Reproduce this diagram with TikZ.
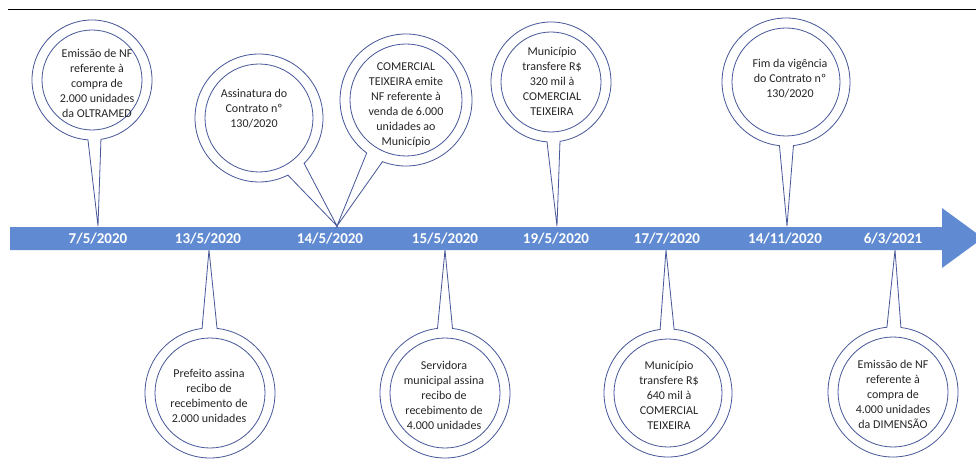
\documentclass[tikz,border=0pt]{standalone}
\usepackage{fontspec}
\setmainfont{Carlito}
\usetikzlibrary{calc}
\definecolor{arrowcol}{RGB}{96,139,210}
\definecolor{bubcol}{RGB}{70,86,152}
\definecolor{txtcol}{RGB}{38,38,38}
\tikzset{
  bubline/.style={draw=bubcol, line width=0.8pt},
  bubtext/.style={align=center, text=txtcol, font=\fontsize{12}{15}\selectfont, inner sep=0pt},
  datetext/.style={text=white, font=\fontsize{15}{18}\selectfont\bfseries, inner sep=0pt}
}
\newcommand\mybubble[4]{%
  \draw[bubline] let \p1=($(#3)-(#1)$), \n1={atan2(\y1,\x1)}, \n2={asin(#4/#2)} in
    ($(#1)+(\n1+\n2:#2pt)$) arc[start angle=\n1+\n2, end angle=\n1+360-\n2, radius=#2pt] -- (#3) -- cycle;
  \draw[bubline] (#1) circle[radius=#2pt-10pt];
}
\begin{document}
\begin{tikzpicture}[x=1pt,y=1pt]
\useasboundingbox (0,0) rectangle (976,461);
\fill[white] (0,0) rectangle (976,461);
% top rule
\draw[black, line width=1pt] (8,451) -- (976,451);
% timeline arrow
\begin{scope}
\clip (0,0) rectangle (976,461);
\fill[arrowcol] (10,211) -- (942,211) -- (942,193) -- (983,223) -- (942,253) -- (942,234) -- (10,234) -- cycle;
\end{scope}
% dates
\node[datetext] (d1) at (98,222.5) {7/5/2020};
\node[datetext] (d2) at (208,222.5) {13/5/2020};
\node[datetext] (d3) at (330,222.5) {14/5/2020};
\node[datetext] (d4) at (445,222.5) {15/5/2020};
\node[datetext] (d5) at (556,222.5) {19/5/2020};
\node[datetext] (d6) at (667,222.5) {17/7/2020};
\node[datetext] (d7) at (785,222.5) {14/11/2020};
\node[datetext] (d8) at (893,222.5) {6/3/2021};
% centres and tips
\coordinate (cA) at (92,381);  \coordinate (pA) at (98,235);
\coordinate (cB) at (259,343); \coordinate (pB) at (337,235);
\coordinate (cC) at (406,361);
\coordinate (cD) at (551,379); \coordinate (pD) at (557,235);
\coordinate (cE) at (786,379); \coordinate (pE) at (787,235);
\coordinate (cF) at (210,68);  \coordinate (pF) at (209,211);
\coordinate (cG) at (445,68);  \coordinate (pG) at (445,211);
\coordinate (cH) at (668,68);  \coordinate (pH) at (666,211);
\coordinate (cI) at (893,69);  \coordinate (pI) at (895,211);
% callouts
\mybubble{cA}{60}{pA}{6.5}
\mybubble{cB}{64}{pB}{10}
\mybubble{cC}{66}{pB}{9}
\mybubble{cD}{60}{pD}{6.5}
\mybubble{cE}{64}{pE}{7}
\mybubble{cF}{65}{pF}{7.5}
\mybubble{cG}{65}{pG}{7.5}
\mybubble{cH}{64}{pH}{7}
\mybubble{cI}{65}{pI}{7}
% texts
\node[bubtext] (tA) at (97,378) {Emissão de NF\\referente à\\compra de\\2.000 unidades\\da OLTRAMED};
\node[bubtext] (tB) at (254,352) {Assinatura do\\Contrato nº\\130/2020};
\node[bubtext] (tC) at (406,356) {COMERCIAL\\TEIXEIRA emite\\NF referente à\\venda de 6.000\\unidades ao\\Município};
\node[bubtext] (tD) at (552,380) {Município\\transfere R\$\\320 mil à\\COMERCIAL\\TEIXEIRA};
\node[bubtext] (tE) at (790,382) {Fim da vigência\\do Contrato nº\\130/2020};
\node[bubtext] (tF) at (209,65) {Prefeito assina\\recibo de\\recebimento de\\2.000 unidades};
\node[bubtext] (tG) at (444,66) {Servidora\\municipal assina\\recibo de\\recebimento de\\4.000 unidades};
\node[bubtext] (tH) at (669,66) {Município\\transfere R\$\\640 mil à\\COMERCIAL\\TEIXEIRA};
\node[bubtext] (tI) at (893,67) {Emissão de NF\\referente à\\compra de\\4.000 unidades\\da DIMENSÃO};
\end{tikzpicture}
\end{document}
